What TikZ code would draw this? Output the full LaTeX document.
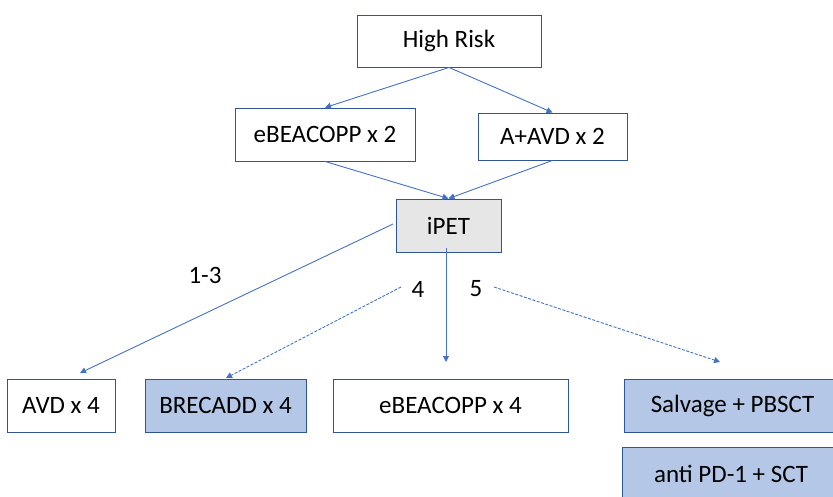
\documentclass[tikz,border=0pt]{standalone}
\usepackage{fontspec}
\setmainfont{Carlito}
\usetikzlibrary{arrows.meta}
\definecolor{boxline}{HTML}{2F5597}
\definecolor{arrowc}{HTML}{4472C4}
\definecolor{bluefill}{HTML}{B4C7E7}
\definecolor{grayfill}{HTML}{E7E6E6}
\tikzset{
  box/.style={draw=boxline, line width=0.9pt, fill=white, inner sep=0pt, font=\fontsize{25}{30}\selectfont},
  bluebox/.style={box, fill=bluefill},
  graybox/.style={box, fill=grayfill},
  conn/.style={draw=arrowc, line width=0.9pt, -{Triangle[width=6pt,length=6pt]}},
  dconn/.style={conn, dash pattern=on 3pt off 1.5pt},
  lab/.style={font=\fontsize{25}{30}\selectfont, inner sep=0pt}
}
\begin{document}
\begin{tikzpicture}[x=1pt,y=-1pt]
\useasboundingbox (0,0) rectangle (833,496);
\clip (0,0) rectangle (833,496);
\node[box, minimum width=184pt, minimum height=52pt] (hr) at (449,41) {High Risk};
\node[box, minimum width=180pt, minimum height=53pt] (eb2) at (325,134.5) {eBEACOPP x 2};
\node[box, minimum width=149pt, minimum height=47pt] (aavd) at (552.5,136.5) {A+AVD x 2};
\node[graybox, minimum width=105pt, minimum height=53pt] (ipet) at (448.5,225.5) {iPET};
\node[box, minimum width=108pt, minimum height=53pt] (avd) at (61,405.5) {AVD x 4};
\node[bluebox, minimum width=161pt, minimum height=53pt] (brec) at (225.5,405.5) {BRECADD x 4};
\node[box, minimum width=235pt, minimum height=53pt] (eb4) at (450.5,405.5) {eBEACOPP x 4};
\node[bluebox, minimum width=217pt, minimum height=53pt] (salv) at (732.5,405.5) {Salvage + PBSCT};
\node[bluebox, minimum width=217pt, minimum height=53pt] (anti) at (731,473.5) {anti PD-1 + SCT};
\node[lab] (l13) at (205,275) {1-3};
\node[lab] (l4) at (418,289) {4};
\node[lab] (l5) at (476,289) {5};
\coordinate (ipl) at (393,224);
\coordinate (ipb) at (446,248);
\coordinate (avdt) at (80,373);
\coordinate (eb4t) at (446,362);
\coordinate (d4s) at (401,287);
\coordinate (brect) at (226,378);
\coordinate (d5s) at (494,287);
\coordinate (salvt) at (720,362);
\draw[conn] (hr.south) -- (eb2.north);
\draw[conn] (hr.south) -- (aavd.north);
\draw[conn] (eb2.south) -- (ipet.north);
\draw[conn] (aavd.south) -- (ipet.north);
\draw[conn] (ipl) -- (avdt);
\draw[conn] (ipb) -- (eb4t);
\draw[dconn] (d4s) -- (brect);
\draw[dconn] (d5s) -- (salvt);
\end{tikzpicture}
\end{document}
